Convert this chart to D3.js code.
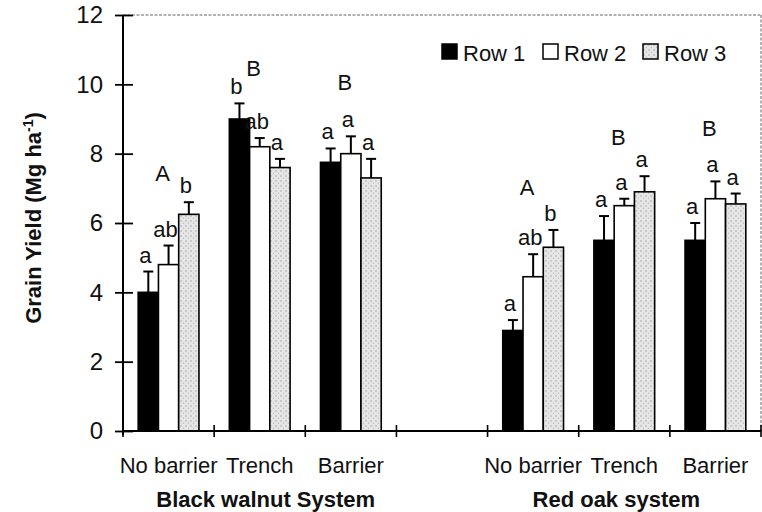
<!DOCTYPE html>
<html>
<meta charset="utf-8">
<style>
body { margin: 0; background: #fff; }
text { font-family: "Liberation Sans", Arial, sans-serif; fill: #111; }
.bold { font-weight: bold; }
</style>
<body>
<script src="https://cdnjs.cloudflare.com/ajax/libs/d3/7.8.5/d3.min.js"></script>
<script>
// categories
var systems = ["Black walnut System", "Red oak system"];
var treatments = ["No barrier", "Trench", "Barrier"];
var rows = ["Row 1", "Row 2", "Row 3"];
var yTicks = [0, 2, 4, 6, 8, 10, 12];

// grain yield (Mg/ha), BW nb/tr/ba then RO nb/tr/ba
var row1 = [4.0, 9.0, 7.75, 2.9, 5.5, 5.5];
var row2 = [4.8, 8.2, 8.0, 4.45, 6.5, 6.7];
var row3 = [6.25, 7.6, 7.3, 5.3, 6.9, 6.55];
// standard errors (upper bars only)
var row1Se = [0.6, 0.45, 0.4, 0.3, 0.7, 0.5];
var row2Se = [0.55, 0.25, 0.5, 0.65, 0.2, 0.5];
var row3Se = [0.35, 0.25, 0.55, 0.5, 0.45, 0.3];
// mean separation letters
var row1Sig = ["a", "b", "a", "a", "a", "a"];
var row2Sig = ["ab", "ab", "a", "ab", "a", "a"];
var row3Sig = ["b", "a", "a", "b", "a", "a"];
var groupSig = ["A", "B", "B", "A", "B", "B"];
var groupSigAt = [7.2, 10.25, 9.85, 6.8, 8.25, 8.5];

var width = 762, height = 512;
var svg = d3.select("body").append("svg")
    .attr("width", width)
    .attr("height", height);

// stipple fill for row 3
var pat = svg.append("defs").append("pattern")
    .attr("id", "stip")
    .attr("width", 5).attr("height", 5)
    .attr("patternUnits", "userSpaceOnUse");
pat.append("rect").attr("width", 5).attr("height", 5).attr("fill", "#e6e6e6");
pat.append("circle").attr("cx", 1).attr("cy", 1).attr("r", 0.7).attr("fill", "#999");
pat.append("circle").attr("cx", 3.5).attr("cy", 3.2).attr("r", 0.6).attr("fill", "#b5b5b5");

var fills = ["#000", "#fff", "url(#stip)"];

// slots: 3 treatments, a gap, 3 treatments
var slots = ["bw0", "bw1", "bw2", "gap", "ro0", "ro1", "ro2"];
var slotOf = ["bw0", "bw1", "bw2", "ro0", "ro1", "ro2"];

var x = d3.scaleBand().domain(slots).range([123, 761]).padding(0);
var bw = x.bandwidth();
var xRow = d3.scaleBand().domain(rows).range([bw / 6, bw * 5 / 6]).padding(0);
var y = d3.scaleLinear().domain([0, 12]).range([431, 15]);

// frame top and right (dotted grey)
svg.append("line")
    .attr("x1", 123).attr("x2", 761).attr("y1", y(12)).attr("y2", y(12))
    .attr("stroke", "#999").attr("stroke-width", 1.5).attr("stroke-dasharray", "3,1.5");
svg.append("line")
    .attr("x1", 761).attr("x2", 761).attr("y1", y(12)).attr("y2", y(0))
    .attr("stroke", "#999").attr("stroke-width", 1.5).attr("stroke-dasharray", "3,1.5");

// build bar table
var bars = [];
var vals = [row1, row2, row3], ses = [row1Se, row2Se, row3Se], sigs = [row1Sig, row2Sig, row3Sig];
slotOf.forEach(function(s, i) {
  rows.forEach(function(r, j) {
    bars.push({slot: s, row: r, j: j, v: vals[j][i], se: ses[j][i], sig: sigs[j][i]});
  });
});

var g = svg.append("g");

g.selectAll(".bar")
    .data(bars)
  .enter().append("rect")
    .attr("class", "bar")
    .attr("x", function(d) { return x(d.slot) + xRow(d.row); })
    .attr("y", function(d) { return y(d.v); })
    .attr("width", xRow.bandwidth())
    .attr("height", function(d) { return y(0) - y(d.v); })
    .attr("fill", function(d) { return fills[d.j]; })
    .attr("stroke", "#000")
    .attr("stroke-width", 1.6);

// error bars
var cx = function(d) { return x(d.slot) + xRow(d.row) + xRow.bandwidth() / 2; };
g.selectAll(".err")
    .data(bars)
  .enter().append("line")
    .attr("x1", cx).attr("x2", cx)
    .attr("y1", function(d) { return y(d.v); })
    .attr("y2", function(d) { return y(d.v + d.se); })
    .attr("stroke", "#000").attr("stroke-width", 2);
g.selectAll(".cap")
    .data(bars)
  .enter().append("line")
    .attr("x1", function(d) { return cx(d) - 5; })
    .attr("x2", function(d) { return cx(d) + 5; })
    .attr("y1", function(d) { return y(d.v + d.se); })
    .attr("y2", function(d) { return y(d.v + d.se); })
    .attr("stroke", "#000").attr("stroke-width", 2);

// row letters
g.selectAll(".sig")
    .data(bars)
  .enter().append("text")
    .attr("x", function(d) { return cx(d) - 3; })
    .attr("y", function(d) { return y(d.v + d.se) - 9; })
    .attr("text-anchor", "middle")
    .style("font-size", "22px")
    .text(function(d) { return d.sig; });

// group letters
g.selectAll(".gsig")
    .data(slotOf)
  .enter().append("text")
    .attr("x", function(d) { return x(d) + bw / 2 - 6; })
    .attr("y", function(d, i) { return y(groupSigAt[i]); })
    .attr("text-anchor", "middle")
    .style("font-size", "22px")
    .text(function(d, i) { return groupSig[i]; });

// y axis
var yAxis = svg.append("g")
    .attr("transform", "translate(123,0)")
    .call(d3.axisLeft(y).tickValues(yTicks).tickSize(0).tickPadding(20));
yAxis.select(".domain").attr("d", "M0," + (y(12)) + "V" + (y(0) + 4)).attr("stroke-width", 2);
yAxis.selectAll(".tick line").attr("x1", 10).attr("x2", -8).attr("stroke-width", 1.8);
yAxis.selectAll(".tick text")
    .style("font-size", "24px")
    .style("font-family", "'Liberation Sans', Arial, sans-serif")
    .attr("fill", "#111");

// x axis: line with crossing ticks at slot borders
svg.append("line")
    .attr("x1", 123).attr("x2", 761).attr("y1", y(0)).attr("y2", y(0))
    .attr("stroke", "#000").attr("stroke-width", 2);
svg.selectAll(".xtick")
    .data(slots.concat(["end"]))
  .enter().append("line")
    .attr("x1", function(d, i) { return i < slots.length ? x(d) : x.range()[1]; })
    .attr("x2", function(d, i) { return i < slots.length ? x(d) : x.range()[1]; })
    .attr("y1", y(0) - 6).attr("y2", y(0) + 6)
    .attr("stroke", "#000").attr("stroke-width", 1.6);

// treatment labels
svg.selectAll(".xlab")
    .data(slotOf)
  .enter().append("text")
    .attr("x", function(d) { return x(d) + bw / 2; })
    .attr("y", 473)
    .attr("text-anchor", "middle")
    .style("font-size", "22px")
    .text(function(d, i) { return treatments[i % 3]; });

// system titles
svg.selectAll(".sys")
    .data(systems)
  .enter().append("text")
    .attr("class", "bold")
    .attr("x", function(d, i) { return i === 0 ? x("bw1") + bw / 2 + 6 : x("ro1") + bw / 2 - 8; })
    .attr("y", 507)
    .attr("text-anchor", "middle")
    .style("font-size", "22px")
    .text(function(d) { return d; });

// y title
var yt = svg.append("text")
    .attr("class", "bold")
    .attr("transform", "translate(41,218) rotate(-90)")
    .attr("text-anchor", "middle")
    .style("font-size", "22px");
yt.append("tspan").text("Grain Yield (Mg ha");
yt.append("tspan").attr("dy", -8).style("font-size", "14px").text("-1");
yt.append("tspan").attr("dy", 8).text(")");

// legend
var legX = [442, 543, 643];
var leg = svg.selectAll(".legend")
    .data(rows)
  .enter().append("g")
    .attr("transform", function(d, i) { return "translate(" + legX[i] + ",44)"; });
leg.append("rect")
    .attr("width", 15).attr("height", 15)
    .attr("fill", function(d, i) { return fills[i]; })
    .attr("stroke", "#000").attr("stroke-width", 1.5);
leg.append("text")
    .attr("x", 21).attr("y", 17)
    .style("font-size", "22px")
    .text(function(d) { return d; });
</script>
</body>
</html>
